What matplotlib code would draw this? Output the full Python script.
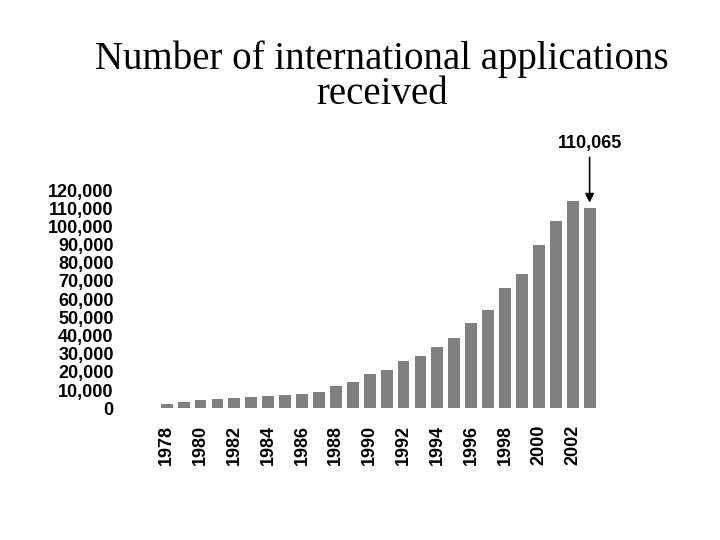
import matplotlib.pyplot as plt
import numpy as np

years = list(range(1978, 2004))
applications = [2300, 3300, 4400, 5000, 5500, 6000, 6600, 7100, 7700, 8800,
                12100, 14300, 18700, 20900, 25900, 28600, 33600, 38500, 46800, 54000,
                66000, 74000, 90000, 103000, 114000, 110065]
y_ticks = list(range(0, 130000, 10000))
tick_years = [y for y in years if y % 2 == 0]

fig = plt.figure(figsize=(7.2, 5.4), dpi=100)
ax = fig.add_axes([0.208, 0.244, 0.625, 0.404])

ax.bar(years, applications, width=0.7, color="#808080")
ax.set_xlim(1977.0, 2003.6)
ax.set_ylim(0, 120000)

ax.set_yticks(y_ticks)
ax.set_yticklabels([f"{v:,}" for v in y_ticks], fontfamily="Liberation Sans",
                   fontweight="bold", fontsize=13)
ax.set_xticks(tick_years)
ax.set_xticklabels([str(y) for y in tick_years], rotation=90, fontfamily="Liberation Sans",
                   fontweight="bold", fontsize=13)
ax.tick_params(axis="y", length=0, pad=26)
ax.tick_params(axis="x", length=0, pad=12)
for s in ax.spines.values():
    s.set_visible(False)

ax.annotate("110,065", xy=(2003, applications[-1] + 1500), xytext=(2003, 141000),
            ha="center", va="bottom", fontfamily="Liberation Sans", fontweight="bold",
            fontsize=13, annotation_clip=False,
            arrowprops=dict(arrowstyle="-|>", color="black", lw=1.2))

fig.text(0.53, 0.79, "Number of international applications\nreceived", ha="center",
         va="bottom", fontfamily="Liberation Serif", fontsize=28, linespacing=0.95)

fig.savefig("out.png", dpi=100)
